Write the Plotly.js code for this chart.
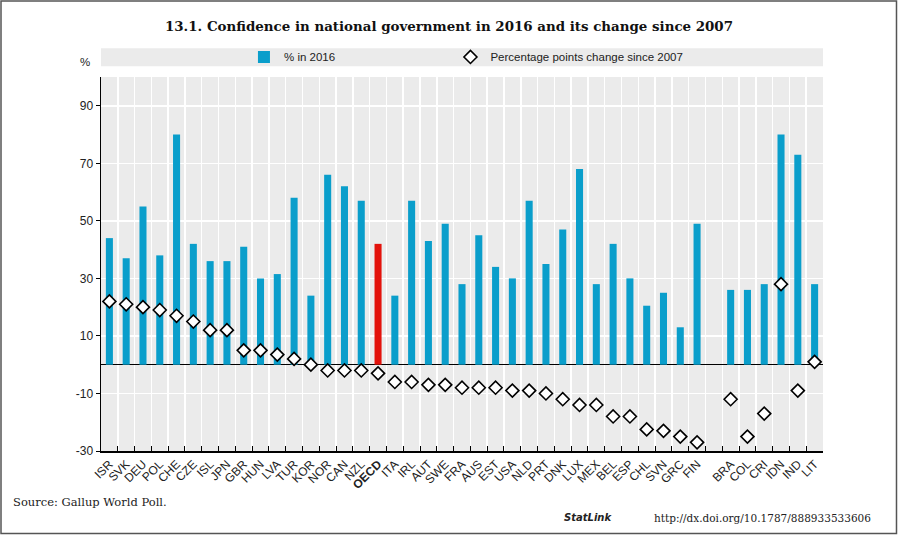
<!DOCTYPE html>
<html>
<head>
<meta charset="utf-8">
<script src="https://cdn.plot.ly/plotly-3.0.1.min.js"></script>
<style>html,body{margin:0;padding:0;background:#fff;}#chart{width:898px;height:535px;}</style>
</head>
<body>
<div id="chart"></div>
<script>
// Categories (empty slot " " is the gap between OECD members and partners)
const countries = ["ISR","SVK","DEU","POL","CHE","CZE","ISL","JPN","GBR","HUN","LVA","TUR","KOR","NOR","CAN","NZL","OECD","ITA","IRL","AUT","SWE","FRA","AUS","EST","USA","NLD","PRT","DNK","LUX","MEX","BEL","ESP","CHL","SVN","GRC","FIN"," ","BRA","COL","CRI","IDN","IND","LIT"];
const tickLabels = ["ISR","SVK","DEU","POL","CHE","CZE","ISL","JPN","GBR","HUN","LVA","TUR","KOR","NOR","CAN","NZL","<b>OECD</b>","ITA","IRL","AUT","SWE","FRA","AUS","EST","USA","NLD","PRT","DNK","LUX","MEX","BEL","ESP","CHL","SVN","GRC","FIN","","BRA","COL","CRI","IDN","IND","LIT"];
const share2016 = [44,37,55,38,80,42,36,36,41,30,31.5,58,24,66,62,57,42,24,57,43,49,28,45,34,30,57,35,47,68,28,42,30,20.5,25,13,49,null,26,26,28,80,73,28];
const change2007 = [22,21,20,19,17,15,12,12,5,5,3.5,2,0,-2,-2,-2,-3,-6,-6,-7,-7,-8,-8,-8,-9,-9,-10,-12,-14,-14,-18,-18,-22.5,-23,-25,-27,null,-12,-25,-17,28,-9,1];
const yTickVals = [-30,-10,10,30,50,70,90];
const yTickText = ["-30","-10","10","30","50","70","90"];

const BLUE = "#0a9ecb", RED = "#e3120b";
const barColors = countries.map(c => c === "OECD" ? RED : BLUE);
const narrow = "Liberation Sans Narrow, Arial Narrow, Liberation Sans, sans-serif";

const traces = [
  {type:"bar", x:countries, y:share2016, name:"% in 2016", legend:"legend",
   marker:{color:barColors, line:{width:0}}},
  {type:"scatter", mode:"markers", x:countries, y:change2007, name:"Percentage points change since 2007",
   legend:"legend2",
   marker:{symbol:"diamond", size:10, color:"#ffffff", line:{color:"#000000", width:1.6}}}
];

const legendFont = {family:narrow, size:11.5, color:"#222"};
const tickFont = {family:narrow, size:12, color:"#222"};
const layout = {
  width:898, height:535,
  margin:{l:101, r:75, t:77, b:84},
  paper_bgcolor:"#ffffff", plot_bgcolor:"#ebebeb",
  bargap:0.58,
  showlegend:true,
  title:{text:"13.1. Confidence in national government in 2016 and its change since 2007",
         font:{family:"DejaVu Serif, serif", size:13.4, color:"#111", weight:"bold"},
         x:0.482, xanchor:"center", xref:"paper", y:0.950, yanchor:"middle"},
  legend:{orientation:"h", x:0.198, y:1.0535, xanchor:"left", yanchor:"middle",
          bgcolor:"rgba(0,0,0,0)", font:legendFont, itemwidth:30},
  legend2:{orientation:"h", x:0.484, y:1.0535, xanchor:"left", yanchor:"middle",
          bgcolor:"rgba(0,0,0,0)", font:legendFont, itemwidth:30},
  xaxis:{type:"category", categoryorder:"array", categoryarray:countries,
         tickmode:"array", tickvals:countries, ticktext:tickLabels,
         tickangle:-45, tickfont:tickFont,
         ticks:"inside", tickson:"boundaries", ticklen:5, tickcolor:"#000", tickwidth:1,
         showgrid:true, gridcolor:"#ffffff", gridwidth:1.5,
         showline:true, linecolor:"#000", linewidth:1.5, zeroline:false,
         range:[-0.5, countries.length-0.5], fixedrange:true},
  yaxis:{range:[-30,100], tickmode:"array", tickvals:yTickVals, ticktext:yTickText,
         tickfont:tickFont,
         ticks:"outside", ticklen:4, tickcolor:"#000",
         showgrid:true, gridcolor:"#ffffff", gridwidth:1.5,
         zeroline:true, zerolinecolor:"#000", zerolinewidth:1.5,
         showline:true, linecolor:"#000", linewidth:1.5, fixedrange:true},
  shapes:[
    {type:"rect", xref:"paper", yref:"paper", x0:0, x1:1, y0:1.029, y1:1.077,
     fillcolor:"#ebebeb", line:{width:0}, layer:"below"},
    {type:"rect", xref:"paper", yref:"paper", x0:-0.1385, x1:1.1018, y0:-0.2206, y1:1.2032,
     fillcolor:"rgba(0,0,0,0)", line:{color:"#555", width:1.5}}
  ],
  annotations:[
    {text:"%", xref:"paper", yref:"paper", x:-0.0125, y:1.040, xanchor:"right", yanchor:"middle",
     showarrow:false, font:{family:narrow, size:11.5, color:"#222"}},
    {text:"Source: Gallup World Poll.", xref:"paper", yref:"paper", x:-0.124, y:-0.136,
     xanchor:"left", yanchor:"middle", showarrow:false,
     font:{family:"DejaVu Serif, serif", size:11.5, color:"#222"}},
    {text:"<b><i>StatLink</i></b>", xref:"paper", yref:"paper", x:0.711, y:-0.179,
     xanchor:"right", yanchor:"middle", showarrow:false,
     font:{family:"DejaVu Sans, sans-serif", size:10, color:"#222"}},
    {text:"http://dx.doi.org/10.1787/888933533606", xref:"paper", yref:"paper", x:1.0695, y:-0.179,
     xanchor:"right", yanchor:"middle", showarrow:false,
     font:{family:"DejaVu Serif, serif", size:10.5, color:"#222"}}
  ]
};

Plotly.newPlot("chart", traces, layout, {displayModeBar:false, staticPlot:true});
</script>
</body>
</html>
